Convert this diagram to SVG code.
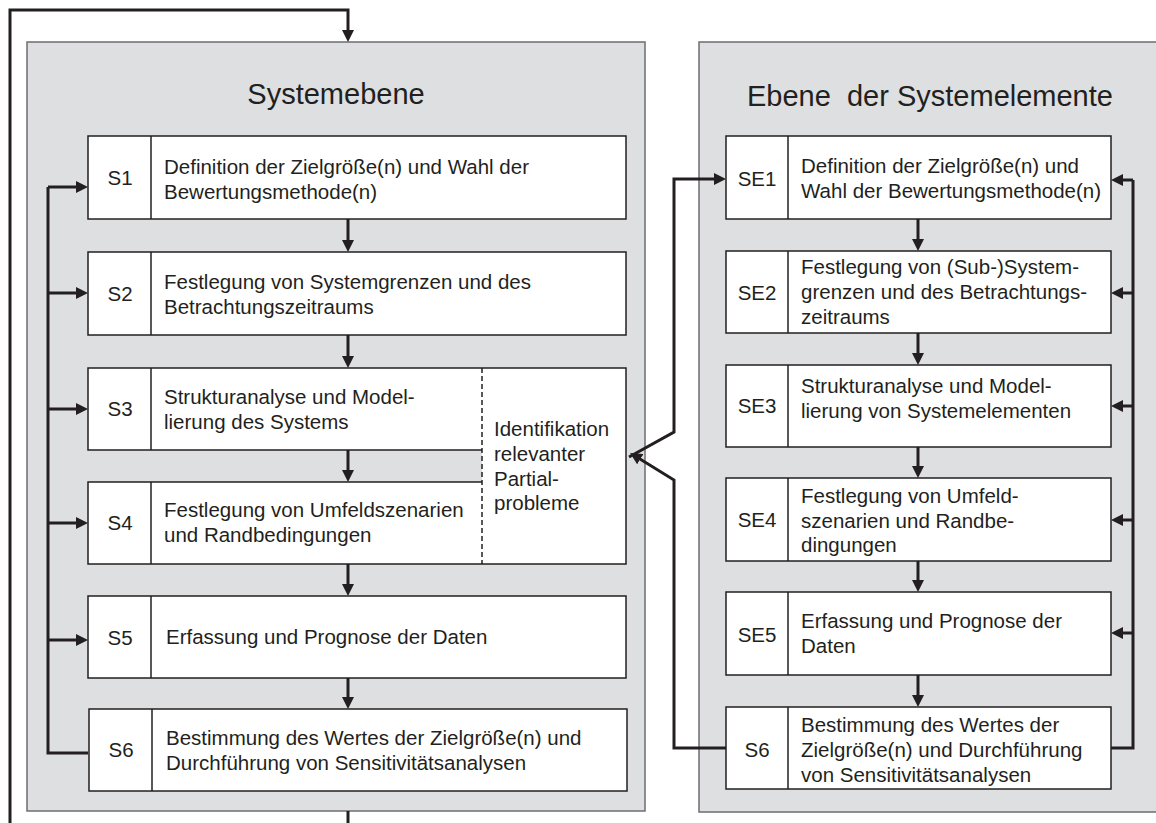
<svg xmlns="http://www.w3.org/2000/svg" width="1156" height="823" viewBox="0 0 1156 823">
<defs>
<marker id="ah" markerUnits="userSpaceOnUse" markerWidth="12" markerHeight="12" viewBox="0 0 12 12" refX="8" refY="6" orient="auto">
<path d="M0,0 L12,6 L0,12 z" fill="#231f20"/>
</marker>
</defs>
<style>
.panel{fill:#dedfe1;stroke:#6d6e71;stroke-width:1.5}
.box{fill:#ffffff;stroke:#231f20;stroke-width:1.5}
.wf{fill:#ffffff;stroke:none}
.ln{fill:none;stroke:#231f20;stroke-width:1.5}
.dash{fill:none;stroke:#231f20;stroke-width:1.5;stroke-dasharray:5,3}
.c{fill:none;stroke:#231f20;stroke-width:3}
.ca{fill:none;stroke:#231f20;stroke-width:3;marker-end:url(#ah)}
text{font-family:"Liberation Sans",Arial,sans-serif;fill:#231f20}
.t{font-size:20.5px}
.lb{font-size:20.5px;text-anchor:middle}
.title{font-size:29px;white-space:pre}
</style>
<rect width="1156" height="823" fill="#ffffff"/>
<g id="panel-system">
<rect class="panel" x="27" y="42" width="618" height="769"/>
<text class="title" x="336" y="104" text-anchor="middle">Systemebene</text>
</g>
<g id="panel-elements">
<rect class="panel" x="699" y="42" width="480" height="770"/>
<text class="title" x="747" y="106">Ebene  der Systemelemente</text>
</g>
<g id="connectors">
<path class="ca" d="M10,823 V10 H348 V38"/>
<path class="c" d="M348,811 V823"/>
<path class="ca" d="M348,219 V248"/>
<path class="ca" d="M348,335 V364"/>
<path class="ca" d="M348,450 V478"/>
<path class="ca" d="M348,564 V592"/>
<path class="ca" d="M348,678 V705"/>
<path class="c" d="M88,753 H48 V187"/>
<path class="ca" d="M48,187 H84"/>
<path class="ca" d="M48,293 H84"/>
<path class="ca" d="M48,409 H84"/>
<path class="ca" d="M48,523 H84"/>
<path class="ca" d="M48,640 H84"/>
<path class="ca" d="M918,219 V247"/>
<path class="ca" d="M918,333 V361"/>
<path class="ca" d="M918,447 V474"/>
<path class="ca" d="M918,561 V588"/>
<path class="ca" d="M918,675 V703"/>
<path class="c" d="M1111,748 H1133 V180"/>
<path class="ca" d="M1133,180 H1115"/>
<path class="ca" d="M1133,293 H1115"/>
<path class="ca" d="M1133,406 H1115"/>
<path class="ca" d="M1133,520 H1115"/>
<path class="ca" d="M1133,633 H1115"/>
<path class="ca" d="M726,748 H674 V480 L633.5,455"/>
<path class="ca" d="M629,457 L674,432 V179 H722"/>
</g>
<g id="S1">
<rect class="box" x="88" y="136" width="538" height="83"/>
<line class="ln" x1="151" y1="136" x2="151" y2="219"/>
<text class="lb" x="120" y="185">S1</text>
<text class="t" x="164" y="174">Definition der Zielgröße(n) und Wahl der</text>
<text class="t" x="164" y="199">Bewertungsmethode(n)</text>
</g>
<g id="S2">
<rect class="box" x="88" y="252" width="538" height="83"/>
<line class="ln" x1="151" y1="252" x2="151" y2="335"/>
<text class="lb" x="120" y="301">S2</text>
<text class="t" x="164" y="289">Festlegung von Systemgrenzen und des</text>
<text class="t" x="164" y="314">Betrachtungszeitraums</text>
</g>
<g id="S3">
<rect class="wf" x="88" y="368" width="394" height="82"/>
<path class="ln" d="M482,368 H88 V450 H482"/>
<line class="ln" x1="151" y1="368" x2="151" y2="450"/>
<text class="lb" x="120" y="416">S3</text>
<text class="t" x="164" y="404">Strukturanalyse und Model-</text>
<text class="t" x="164" y="429">lierung des Systems</text>
</g>
<g id="S4">
<rect class="wf" x="88" y="482" width="394" height="82"/>
<path class="ln" d="M482,482 H88 V564 H482"/>
<line class="ln" x1="151" y1="482" x2="151" y2="564"/>
<text class="lb" x="120" y="530">S4</text>
<text class="t" x="164" y="517">Festlegung von Umfeldszenarien</text>
<text class="t" x="164" y="542">und Randbedingungen</text>
</g>
<g id="partial">
<rect class="wf" x="482" y="368" width="144" height="196"/>
<path class="ln" d="M482,368 H626 V564 H482"/>
<line class="dash" x1="482" y1="368" x2="482" y2="564"/>
<text class="t" x="494" y="436">Identifikation</text>
<text class="t" x="494" y="461">relevanter</text>
<text class="t" x="494" y="486">Partial-</text>
<text class="t" x="494" y="510">probleme</text>
</g>
<g id="S5">
<rect class="box" x="88" y="596" width="538" height="82"/>
<line class="ln" x1="151" y1="596" x2="151" y2="678"/>
<text class="lb" x="120" y="645">S5</text>
<text class="t" x="166" y="644">Erfassung und Prognose der Daten</text>
</g>
<g id="S6">
<rect class="box" x="89" y="709" width="538" height="82"/>
<line class="ln" x1="152" y1="709" x2="152" y2="791"/>
<text class="lb" x="121" y="757">S6</text>
<text class="t" x="166" y="745">Bestimmung des Wertes der Zielgröße(n) und</text>
<text class="t" x="166" y="770">Durchführung von Sensitivitätsanalysen</text>
</g>
<g id="SE1">
<rect class="box" x="726" y="136" width="385" height="83"/>
<line class="ln" x1="788" y1="136" x2="788" y2="219"/>
<text class="lb" x="757" y="186">SE1</text>
<text class="t" x="801" y="173">Definition der Zielgröße(n) und</text>
<text class="t" x="801" y="198">Wahl der Bewertungsmethode(n)</text>
</g>
<g id="SE2">
<rect class="box" x="726" y="251" width="385" height="82"/>
<line class="ln" x1="788" y1="251" x2="788" y2="333"/>
<text class="lb" x="757" y="300">SE2</text>
<text class="t" x="801" y="274">Festlegung von (Sub-)System-</text>
<text class="t" x="801" y="299">grenzen und des Betrachtungs-</text>
<text class="t" x="801" y="324">zeitraums</text>
</g>
<g id="SE3">
<rect class="box" x="726" y="365" width="385" height="82"/>
<line class="ln" x1="788" y1="365" x2="788" y2="447"/>
<text class="lb" x="757" y="413">SE3</text>
<text class="t" x="801" y="393">Strukturanalyse und Model-</text>
<text class="t" x="801" y="418">lierung von Systemelementen</text>
</g>
<g id="SE4">
<rect class="box" x="726" y="478" width="385" height="83"/>
<line class="ln" x1="788" y1="478" x2="788" y2="561"/>
<text class="lb" x="757" y="527">SE4</text>
<text class="t" x="801" y="503">Festlegung von Umfeld-</text>
<text class="t" x="801" y="528">szenarien und Randbe-</text>
<text class="t" x="801" y="552">dingungen</text>
</g>
<g id="SE5">
<rect class="box" x="726" y="592" width="385" height="83"/>
<line class="ln" x1="788" y1="592" x2="788" y2="675"/>
<text class="lb" x="757" y="642">SE5</text>
<text class="t" x="801" y="628">Erfassung und Prognose der</text>
<text class="t" x="801" y="653">Daten</text>
</g>
<g id="SE6">
<rect class="box" x="726" y="707" width="385" height="82"/>
<line class="ln" x1="788" y1="707" x2="788" y2="789"/>
<text class="lb" x="757" y="757">S6</text>
<text class="t" x="801" y="732">Bestimmung des Wertes der</text>
<text class="t" x="801" y="757">Zielgröße(n) und Durchführung</text>
<text class="t" x="801" y="782">von Sensitivitätsanalysen</text>
</g>
</svg>
